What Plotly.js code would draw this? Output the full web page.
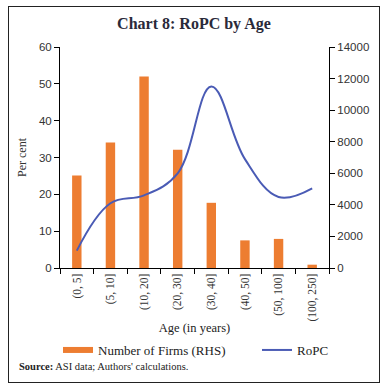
<!DOCTYPE html>
<html><head><meta charset="utf-8">
<script src="https://cdn.plot.ly/plotly-3.0.1.min.js"></script>
<style>
html,body{margin:0;padding:0;background:#fff;}
#wrap{position:relative;width:388px;height:387px;}
#chart{width:388px;height:387px;}
#frame{position:absolute;left:8px;top:6px;width:370px;height:375px;border:1.5px solid #222;pointer-events:none;}
</style></head>
<body><div id="wrap"><div id="chart"></div><div id="frame"></div></div>
<script>
const categories = ["(0, 5]","(5, 10]","(10, 20]","(20, 30]","(30, 40]","(40, 50]","(50, 100]","(100, 250]"];
const firmsShare = [25.1, 34.1, 52.0, 32.1, 17.7, 7.5, 7.9, 0.9];
const ropc = [1100, 4100, 4600, 6000, 11500, 6900, 4500, 5050];
const seriesNames = ["Number of Firms (RHS)", "RoPC"];

const sans = "Liberation Sans, Arial, sans-serif";
const serif = "Liberation Serif, Times New Roman, serif";
const orange = "#ED7D31", blue = "#4A5BB5";

const traces = [
  {type:"bar", x:categories, y:firmsShare, name:seriesNames[0], marker:{color:orange}, width:0.28, yaxis:"y", showlegend:false},
  {type:"scatter", mode:"lines", x:categories, y:ropc, name:seriesNames[1], yaxis:"y2", legend:"legend2",
   line:{color:blue, width:2, shape:"spline", smoothing:1.1}},
  {type:"scatter", mode:"lines", x:[categories[0]], y:[null], name:seriesNames[0], yaxis:"y", legend:"legend",
   line:{color:orange, width:6}}
];

const legendBase = {orientation:"h", xref:"container", yref:"container", y:1-350/387, yanchor:"middle", xanchor:"left",
  font:{family:serif, size:13, color:"#222"}, bgcolor:"rgba(0,0,0,0)"};

const layout = {
  width:388, height:387,
  margin:{l:60, r:59, t:47, b:119},
  paper_bgcolor:"#fff", plot_bgcolor:"#fff",
  showlegend:true,
  title:{text:"<b>Chart 8: RoPC by Age</b>", font:{family:serif, size:16, color:"#2a2a3a"}, x:0.5, xanchor:"center", yref:"container", y:0.94, yanchor:"middle"},
  xaxis:{type:"category", showline:true, linecolor:"#000", linewidth:1, ticks:"outside", tickson:"boundaries", ticklen:5, tickcolor:"#000",
    tickangle:-90, tickfont:{family:serif, size:11.5, color:"#333"}, showgrid:false,
    title:{text:"Age (in years)", font:{family:serif, size:12.5, color:"#222"}, standoff:7}},
  yaxis:{range:[0,60], dtick:10, showline:true, linecolor:"#000", linewidth:1, ticks:"outside", ticklen:5, tickcolor:"#000",
    showgrid:false, zeroline:false, tickfont:{family:sans, size:11.5, color:"#333"},
    title:{text:"Per cent", font:{family:serif, size:12, color:"#333"}, standoff:9}},
  yaxis2:{range:[0,14000], dtick:2000, tickformat:"d", overlaying:"y", side:"right", showline:true, linecolor:"#000", linewidth:1, ticks:"outside", ticklen:5, tickcolor:"#000",
    showgrid:false, zeroline:false, tickfont:{family:sans, size:11.5, color:"#333"}},
  legend:Object.assign({}, legendBase, {x:58/388}),
  legend2:Object.assign({}, legendBase, {x:257/388}),
  annotations:[{xref:"paper", yref:"paper", x:-(60-17)/269, y:-(366-268)/221, xanchor:"left", yanchor:"middle", showarrow:false,
    text:"<b>Source:</b> ASI data; Authors' calculations.", font:{family:serif, size:10.5, color:"#222"}}]
};
Plotly.newPlot("chart", traces, layout, {displayModeBar:false, staticPlot:true});
</script></body></html>
